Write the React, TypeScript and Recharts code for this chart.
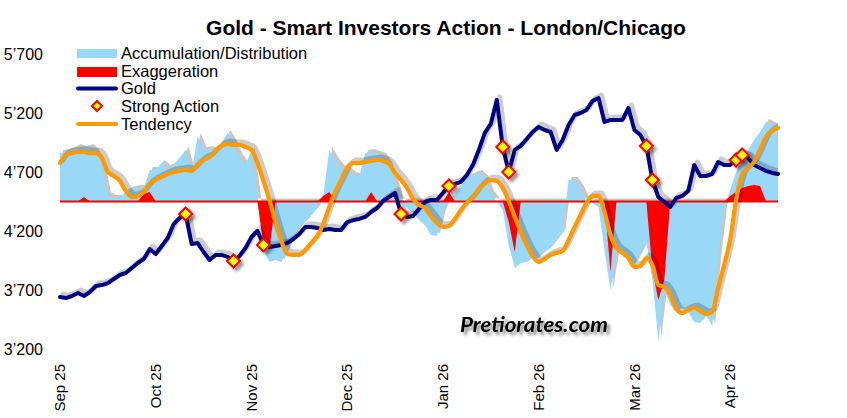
import React from 'react';
import { ComposedChart, Area, Line, XAxis, YAxis, ReferenceLine } from 'recharts';

const BASE = 4450;

const monthLabels = ['Sep 25', 'Oct 25', 'Nov 25', 'Dec 25', 'Jan 26', 'Feb 26', 'Mar 26', 'Apr 26'];
const monthIdx = [0, 16, 32, 48, 64, 80, 96, 112];
const yTicks = [3200, 3700, 4200, 4700, 5200, 5700];

const gold = [
  3641, 3632, 3649, 3674, 3649, 3683, 3734, 3742, 3759, 3793,
  3827, 3844, 3886, 3929, 3963, 4047, 4005, 4073, 4141, 4259,
  4310, 4344, 4090, 4098, 4022, 3954, 3997, 3997, 3980, 3946,
  3988, 4056, 4149, 4200, 4082, 4065, 4073, 4082, 4098, 4132,
  4175, 4234, 4234, 4226, 4209, 4217, 4209, 4209, 4276, 4293,
  4302, 4319, 4361, 4395, 4454, 4488, 4522, 4344, 4319, 4327,
  4387, 4446, 4463, 4463, 4522, 4582, 4599, 4616, 4675, 4760,
  4887, 5031, 5107, 5311, 4912, 4700, 4887, 4921, 4980, 5039,
  5082, 5056, 5039, 4887, 4972, 5099, 5183, 5200, 5226, 5302,
  5327, 5124, 5141, 5141, 5141, 5243, 5056, 5014, 4921, 4632,
  4488, 4446, 4404, 4480, 4497, 4539, 4760, 4666, 4666, 4683,
  4785, 4760, 4760, 4802, 4844, 4819, 4760, 4734, 4709, 4692,
  4683,
];

const tendency = [
  4776, 4844, 4861, 4870, 4870, 4861, 4861, 4819, 4700, 4666,
  4624, 4539, 4488, 4497, 4531, 4599, 4632, 4658, 4683, 4700,
  4709, 4717, 4709, 4760, 4802, 4827, 4878, 4921, 4938, 4929,
  4929, 4912, 4887, 4776, 4624, 4463, 4276, 4115, 4005, 3997,
  3997, 4039, 4098, 4158, 4259, 4404, 4531, 4632, 4734, 4776,
  4776, 4785, 4793, 4802, 4793, 4768, 4692, 4632, 4565, 4471,
  4420, 4395, 4327, 4268, 4234, 4243, 4302, 4378, 4438, 4488,
  4556, 4607, 4632, 4624, 4565, 4454, 4319, 4192, 4082, 3988,
  3937, 3963, 3997, 4014, 4031, 4124, 4234, 4336, 4438, 4497,
  4497, 4361, 4166, 4056, 4014, 3971, 3895, 3904, 3971, 3912,
  3742, 3726, 3658, 3539, 3505, 3531, 3548, 3522, 3497, 3514,
  3717, 3912, 4124, 4463, 4675, 4734, 4785, 4887, 4997, 5048,
  5073,
];

const accumulation = [
  4861, 4870, 4887, 4912, 4895, 4912, 4870, 4760, 4505, 4480,
  4480, 4531, 4556, 4565, 4565, 4717, 4717, 4776, 4734, 4760,
  4819, 4887, 4700, 5005, 4887, 4895, 4870, 4946, 5031, 4946,
  4827, 4760, 4887, 4505, 4039, 3937, 3954, 3937, 4039, 4141,
  4226, 4276, 4336, 4395, 4505, 4887, 4802, 4734, 4717, 4675,
  4658, 4861, 4870, 4853, 4836, 4760, 4607, 4463, 4395, 4353,
  4293, 4251, 4166, 4158, 4361, 4460, 4505, 4590, 4649, 4675,
  4692, 4649, 4522, 4450, 4378, 4082, 3887, 3929, 3937, 3971,
  3971, 4022, 4056, 4124, 4192, 4632, 4632, 4565, 4450, 4438,
  4404, 4039, 3700, 4014, 4039, 3971, 3912, 4014, 4107, 3785,
  3276, 3700, 3573, 3514, 3548, 3514, 3429, 3421, 3488, 3395,
  3954, 4395, 4548, 4700, 4819, 4887, 4972, 5039, 5124, 5099,
  5073,
];

const exaggeration = [
  4450, 4450, 4450, 4450, 4488, 4450, 4450, 4450, 4450, 4450,
  4450, 4450, 4450, 4450, 4514, 4531, 4450, 4450, 4450, 4450,
  4450, 4450, 4450, 4450, 4450, 4450, 4450, 4450, 4450, 4450,
  4450, 4450, 4450, 4450, 4082, 4039, 4450, 4450, 4450, 4450,
  4450, 4450, 4450, 4450, 4497, 4531, 4450, 4450, 4450, 4450,
  4450, 4450, 4531, 4450, 4450, 4450, 4450, 4450, 4450, 4450,
  4450, 4450, 4450, 4450, 4450, 4531, 4450, 4450, 4450, 4450,
  4450, 4450, 4450, 4450, 4450, 4276, 4022, 4450, 4450, 4450,
  4450, 4450, 4450, 4450, 4450, 4450, 4450, 4450, 4450, 4450,
  4450, 4450, 3853, 4450, 4450, 4450, 4450, 4450, 4450, 3870,
  3615, 3785, 4450, 4450, 4450, 4450, 4450, 4450, 4450, 4450,
  4450, 4450, 4497, 4531, 4565, 4582, 4590, 4582, 4450, 4450,
  4450,
];

const strongIdx = [21, 29, 34, 57, 65, 74, 75, 98, 99, 113, 114];

const data = gold.map((g, i) => ({
  i,
  gold: g,
  tendency: tendency[i],
  accum: accumulation[i],
  exagg: exaggeration[i],
  strong: strongIdx.includes(i) ? g : null,
}));

// hidden, slightly offset axes used only to draw the drop shadows of the series
const SHADOW_X_DOMAIN = [-0.5, 119.5];
const SHADOW_Y_DOMAIN = [3174.6, 5674.6];

const BLUE = '#9AD8F8';
const RED = '#FF0000';
const NAVY = '#000080';
const ORANGE = '#FF9900';
const SHADOW = '#000000';
const FONT = '"Liberation Sans", Arial, sans-serif';

const fmt = (v: number) => {
  const s = String(v);
  return s.slice(0, 1) + '\u2019' + s.slice(1);
};

const XTick = (props: any) => {
  const { x, y, payload } = props;
  const k = monthIdx.indexOf(payload.value);
  return (
    <g transform={`translate(${x},${y + 7})`}>
      <text textAnchor="end" transform="rotate(-90)" dy="0.35em" fontSize={15} fontFamily={FONT} fill="#000">
        {monthLabels[k]}
      </text>
    </g>
  );
};

const Diamond = (props: any) => {
  const { cx, cy, payload, index } = props;
  if (payload == null || payload.strong == null || cy == null || isNaN(cy)) return <g key={`d${index}`} />;
  const s = 6.5;
  return (
    <path
      key={`d${index}`}
      filter="url(#dshadow)"
      d={`M${cx},${cy - s}L${cx + s},${cy}L${cx},${cy + s}L${cx - s},${cy}Z`}
      fill="#FFFF00"
      stroke={RED}
      strokeWidth={2}
    />
  );
};

export default function App() {
  const W = 847;
  const H = 418;
  return (
    <div style={{ position: 'relative', width: W, height: H }}>
      <style>{`body{margin:0;}`}</style>
      <ComposedChart
        width={W}
        height={H}
        data={data}
        margin={{ top: 54, right: 69, left: 5, bottom: 9 }}
      >
        <defs>
          <filter id="dshadow" x="-50%" y="-50%" width="200%" height="200%">
            <feDropShadow dx="3" dy="3" stdDeviation="1.5" floodColor="#000" floodOpacity="0.4" />
          </filter>
        </defs>
        <XAxis
          type="number"
          dataKey="i"
          domain={[0, 120]}
          ticks={monthIdx}
          interval={0}
          axisLine={false}
          tickLine={false}
          height={60}
          tick={<XTick />}
        />
        <XAxis xAxisId="sh" type="number" dataKey="i" domain={SHADOW_X_DOMAIN} allowDataOverflow hide />
        <YAxis
          type="number"
          domain={[3200, 5700]}
          ticks={yTicks}
          interval={0}
          width={55}
          axisLine={false}
          tickLine={false}
          tickSize={6}
          tickMargin={11}
          tickFormatter={fmt}
          tick={{ fontSize: 16, fill: '#000', fontFamily: FONT }}
          allowDataOverflow
        />
        <YAxis yAxisId="sh" type="number" domain={SHADOW_Y_DOMAIN} allowDataOverflow hide />
        <Area
          xAxisId="sh"
          yAxisId="sh"
          type="linear"
          dataKey="accum"
          baseValue={BASE}
          stroke="none"
          fill={SHADOW}
          fillOpacity={0.22}
          isAnimationActive={false}
          legendType="none"
        />
        <Area
          type="linear"
          dataKey="accum"
          baseValue={BASE}
          stroke="none"
          fill={BLUE}
          fillOpacity={1}
          isAnimationActive={false}
        />
        <Area
          type="linear"
          dataKey="exagg"
          baseValue={BASE}
          stroke="none"
          fill={RED}
          fillOpacity={1}
          isAnimationActive={false}
        />
        <ReferenceLine y={BASE} stroke={RED} strokeWidth={2} />
        <Line
          xAxisId="sh"
          yAxisId="sh"
          type="linear"
          dataKey="gold"
          stroke={SHADOW}
          strokeOpacity={0.2}
          strokeWidth={5}
          strokeLinejoin="round"
          strokeLinecap="round"
          dot={false}
          activeDot={false}
          isAnimationActive={false}
          legendType="none"
        />
        <Line
          xAxisId="sh"
          yAxisId="sh"
          type="monotone"
          dataKey="tendency"
          stroke={SHADOW}
          strokeOpacity={0.2}
          strokeWidth={5}
          strokeLinejoin="round"
          strokeLinecap="round"
          dot={false}
          activeDot={false}
          isAnimationActive={false}
          legendType="none"
        />
        <Line
          type="linear"
          dataKey="gold"
          stroke={NAVY}
          strokeWidth={4}
          strokeLinejoin="round"
          strokeLinecap="round"
          dot={false}
          isAnimationActive={false}
        />
        <Line
          type="monotone"
          dataKey="tendency"
          stroke={ORANGE}
          strokeWidth={4.25}
          strokeLinejoin="round"
          strokeLinecap="round"
          dot={false}
          isAnimationActive={false}
        />
        <Line
          type="linear"
          dataKey="strong"
          stroke="none"
          dot={Diamond}
          activeDot={false}
          isAnimationActive={false}
          connectNulls={false}
        />
      </ComposedChart>
      <svg width={W} height={H} style={{ position: 'absolute', left: 0, top: 0, pointerEvents: 'none' }}>
        <defs>
          <filter id="tshadow" x="-20%" y="-50%" width="140%" height="200%">
            <feDropShadow dx="3" dy="3" stdDeviation="1.5" floodColor="#000" floodOpacity="0.45" />
          </filter>
        </defs>
        <text x={446} y={35} textAnchor="middle" fontSize={21} fontWeight="bold" fontFamily={FONT} fill="#000">
          Gold - Smart Investors Action - London/Chicago
        </text>
        <g fontFamily={FONT} fontSize={16.5} fill="#000">
          <rect x={77} y={49} width={40} height={9} fill={BLUE} />
          <text x={121} y={53} dy="0.35em">Accumulation/Distribution</text>
          <rect x={77} y={67} width={40} height={10} fill={RED} />
          <text x={121} y={71.5} dy="0.35em">Exaggeration</text>
          <line x1={78} y1={88.5} x2={116} y2={88.5} stroke={NAVY} strokeWidth={4} strokeLinecap="round" />
          <text x={121} y={88.5} dy="0.35em">Gold</text>
          <path d="M97,101L102,106L97,111L92,106Z" fill="#FFFF00" stroke={RED} strokeWidth={2} />
          <text x={121} y={106} dy="0.35em">Strong Action</text>
          <line x1={78} y1={124} x2={116} y2={124} stroke={ORANGE} strokeWidth={4} strokeLinecap="round" />
          <text x={121} y={124} dy="0.35em">Tendency</text>
        </g>
        <text
          x={460}
          y={332}
          fontSize={21}
          fontWeight="bold"
          fontStyle="italic"
          fontFamily="Lato, 'Open Sans', sans-serif"
          fill="#000"
          textLength={148}
          lengthAdjust="spacingAndGlyphs"
          filter="url(#tshadow)"
        >
          Pretiorates.com
        </text>
      </svg>
    </div>
  );
}
